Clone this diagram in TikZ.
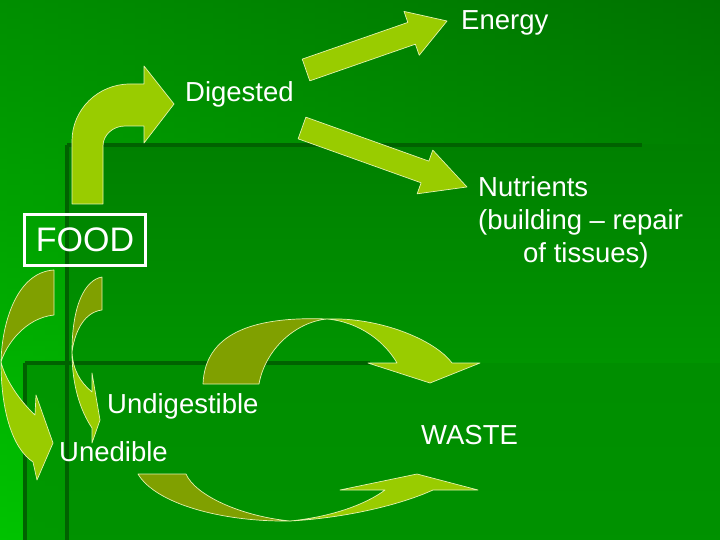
\documentclass[tikz,border=0pt]{standalone}
\usepackage{fontspec}
\setmainfont{Liberation Sans}
\definecolor{sprout}{RGB}{153,204,0}
\definecolor{moss}{RGB}{128,160,0}
\definecolor{pale}{RGB}{228,242,175}
\definecolor{forest}{RGB}{0,98,0}
\definecolor{westgreen}{RGB}{0,178,0}
\definecolor{eastgreen}{RGB}{0,122,0}
\definecolor{deep}{RGB}{0,108,0}
\definecolor{bright}{RGB}{0,212,0}
\definecolor{panel}{RGB}{0,128,0}
\definecolor{panelbot}{RGB}{0,164,0}
\definecolor{floor}{RGB}{0,140,0}
\tikzset{
  lbl/.style={text=white,inner sep=0pt,anchor=base west,font=\fontsize{27.5bp}{33bp}\selectfont},
  front/.style={fill=sprout,draw=pale,line width=0.7bp,line join=round},
  back/.style={fill=moss,draw=pale,line width=0.7bp,line join=round},
  rule/.style={draw=forest,line width=4bp},
  % block arrow: neck / length
  pics/slab/.style args={#1/#2}{code={
    \path[front] (0,-11.5) -- (#1,-11.5) -- (#1,-23.2) -- (#2,0) -- (#1,23.2) -- (#1,11.5) -- (0,11.5) -- cycle;
  }},
}
\begin{document}
\begin{tikzpicture}[x=1bp,y=-1bp]
  \useasboundingbox (0,0) rectangle (720,540);
  % background
  \shade[left color=westgreen,right color=eastgreen] (0,0) rectangle (720,540);
  \shade[top color=deep,bottom color=bright,opacity=0.5] (0,0) rectangle (720,540);
  \shade[top color=panel,bottom color=panelbot] (67,145) rectangle (720,540);
  \fill[floor,opacity=0.75] (25,363) rectangle (720,540);
  \draw[rule] (67,145) -- (642,145) (67,145) -- (67,540);
  \draw[rule] (25,363) -- (370,363) (25,363) -- (25,540);

  \node[draw=white,line width=3bp,minimum width=121bp,minimum height=51bp,inner sep=0pt,
    text=white,font=\fontsize{34bp}{40bp}\selectfont] (food) at (85,240) {FOOD};
  \node[lbl] (digested) at (185,102) {Digested};
  \node[lbl] (energy) at (461,30) {Energy};
  \node[lbl,align=left] (nutrients) at (478,263) {Nutrients\\(building -- repair\\\hspace*{45bp}of tissues)};
  \node[lbl] (undigestible) at (107,413) {Undigestible};
  \node[lbl] (unedible) at (59,461) {Unedible};
  \node[lbl] (waste) at (421,444) {WASTE};

  % bent arrow up to Digested
  \path[front] (72,204) -- (72,141) arc[start angle=180,end angle=270,x radius=58,y radius=57]
    -- (144,84) -- (144,66) -- (174,104) -- (144,143) -- (144,126) -- (125,126)
    arc[start angle=270,end angle=180,x radius=22,y radius=20] -- (103,204) -- cycle;
  \pic[rotate=19.16] at (306,70) {slab=111.8/149.3};
  \pic[rotate=-19.67] at (302,128) {slab=130.6/175.2};

  % curved arrows
  \path[back] (54,270) .. controls (18,272) and (2,320) .. (1,362)
    .. controls (6,345) and (25,318) .. (54,315) -- cycle;
  \path[front] (1,362) .. controls (1,410) and (12,448) .. (33,462) -- (37,480) -- (53,443)
    -- (36,395) -- (35,415) .. controls (22,403) and (6,382) .. cycle;
  \path[back] (102,277) .. controls (85,280) and (72,305) .. (72,352)
    .. controls (75,330) and (85,312) .. (102,310) -- cycle;
  \path[front] (72,352) .. controls (72,385) and (80,410) .. (92,428) -- (92,443) -- (100,420)
    -- (92,373) -- (92,392) .. controls (80,382) and (73,370) .. cycle;
  \path[back] (203,384) .. controls (205,335) and (250,316) .. (327,319)
    .. controls (295,322) and (265,350) .. (259,384) -- cycle;
  \path[front] (327,319) .. controls (380,317) and (435,340) .. (452,363) -- (480,363) -- (430,383)
    -- (368,363) -- (397,363) .. controls (385,342) and (360,322) .. cycle;
  \path[back] (138,474) .. controls (155,503) and (220,522) .. (290,521)
    .. controls (240,516) and (195,495) .. (186,474) -- cycle;
  \path[front] (290,521) .. controls (345,518) and (400,505) .. (433,490) -- (478,490) -- (417,474)
    -- (340,490) -- (385,490) .. controls (365,505) and (330,517) .. cycle;
\end{tikzpicture}
\end{document}
